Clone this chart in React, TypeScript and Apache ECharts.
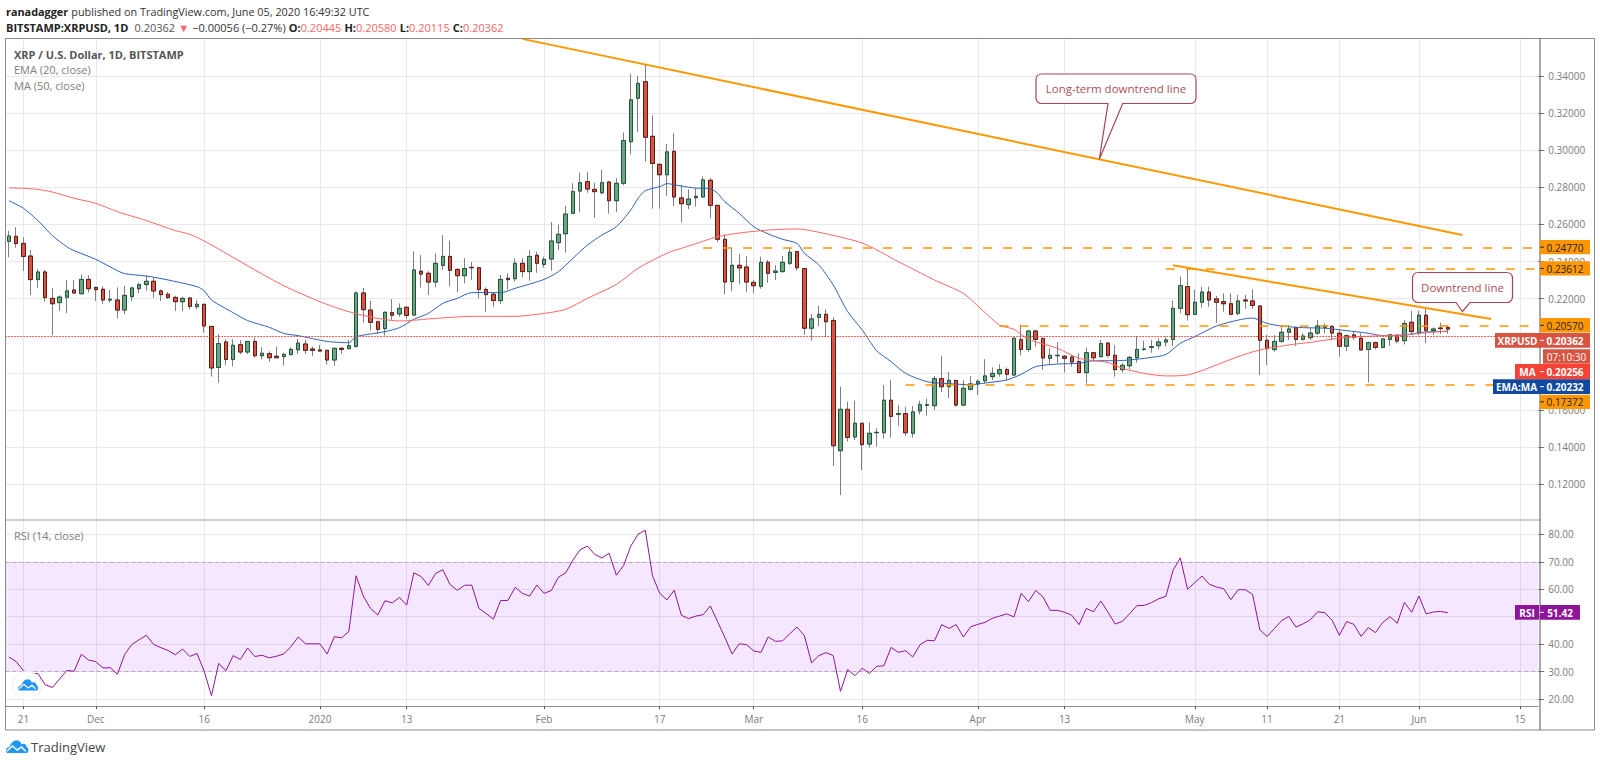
import React from 'react';
import * as echarts from 'echarts';

// one category per calendar day, Nov 19 2019 onwards; the last ones are the empty space right of the price
const dates: string[] = Array.from({ length: 212 }, (_, i) =>
  new Date(Date.UTC(2019, 10, 19 + i)).toISOString().slice(0, 10),
);

const tickDates = ['2019-11-21', '2019-12-01', '2019-12-16', '2020-01-01', '2020-01-13', '2020-02-01', '2020-02-17', '2020-03-01', '2020-03-16', '2020-04-01', '2020-04-13', '2020-05-01', '2020-05-11', '2020-05-21', '2020-06-01', '2020-06-15'];
const tickLabels = ['21', 'Dec', '16', '2020', '13', 'Feb', '17', 'Mar', '16', 'Apr', '13', 'May', '11', '21', 'Jun', '15'];

const priceTicks = [0.12, 0.14, 0.16, 0.18, 0.2, 0.22, 0.24, 0.26, 0.28, 0.3, 0.32, 0.34];
const rsiTicks = [20, 30, 40, 50, 60, 70, 80];
// 0.18, 0.20 and 50 sit fully behind the price tags
const priceLabels = [0.12, 0.14, 0.16, 0.22, 0.24, 0.26, 0.28, 0.3, 0.32, 0.34];
const rsiLabels = [20, 30, 40, 60, 70, 80];

const opens = [
  0.2509, 0.2536, 0.2498, 0.243, 0.2303, 0.2344, 0.2202, 0.2179, 0.2208, 0.2247,
  0.2227, 0.2304, 0.2261, 0.2251, 0.2193, 0.2193, 0.2139, 0.2211, 0.2254, 0.2276,
  0.2294, 0.2242, 0.2224, 0.2207, 0.2184, 0.2204, 0.2157, 0.217, 0.2051, 0.183,
  0.1967, 0.1873, 0.1952, 0.1913, 0.197, 0.1893, 0.1904, 0.189, 0.1888, 0.1899,
  0.1925, 0.1956, 0.1929, 0.1924, 0.1922, 0.187, 0.1933, 0.1931, 0.1943, 0.2231,
  0.2139, 0.2076, 0.2039, 0.2125, 0.2118, 0.2154, 0.2112, 0.2348, 0.2337, 0.229,
  0.238, 0.2428, 0.2358, 0.2324, 0.2369, 0.2367, 0.225, 0.2224, 0.219, 0.231,
  0.2308, 0.2391, 0.2346, 0.2434, 0.2385, 0.2414, 0.2502, 0.255, 0.266, 0.278,
  0.2831, 0.2789, 0.2771, 0.2829, 0.2728, 0.2822, 0.3046, 0.328, 0.3369, 0.3075,
  0.2924, 0.2868, 0.2994, 0.2743, 0.2707, 0.2744, 0.2748, 0.2838, 0.2703, 0.252,
  0.2292, 0.238, 0.2371, 0.2288, 0.2267, 0.2396, 0.2342, 0.2346, 0.2391, 0.2454,
  0.2362, 0.2041, 0.21, 0.2116, 0.2082, 0.1381, 0.1604, 0.1455, 0.1529, 0.1417,
  0.1478, 0.1478, 0.1653, 0.1577, 0.1581, 0.1475, 0.1595, 0.1626, 0.1624, 0.1769,
  0.1726, 0.176, 0.1627, 0.1712, 0.1741, 0.1758, 0.178, 0.1796, 0.1818, 0.1789,
  0.1979, 0.1927, 0.2026, 0.1985, 0.1879, 0.1893, 0.189, 0.1886, 0.1861, 0.1802,
  0.1909, 0.1888, 0.1961, 0.1895, 0.1818, 0.1839, 0.1882, 0.1927, 0.1938, 0.1947,
  0.1967, 0.1981, 0.2148, 0.2265, 0.2116, 0.2181, 0.2236, 0.2199, 0.2184, 0.2173,
  0.2121, 0.2193, 0.2188, 0.2161, 0.1976, 0.1926, 0.197, 0.2019, 0.2044, 0.1981,
  0.199, 0.2015, 0.2046, 0.2051, 0.2014, 0.1944, 0.2005, 0.1987, 0.1927, 0.1963,
  0.1938, 0.1981, 0.2003, 0.1974, 0.2073, 0.2014, 0.2111, 0.2028, 0.2042, 0.20445,
];
const closes = [
  0.2538, 0.2497, 0.2428, 0.2303, 0.2344, 0.2206, 0.2173, 0.2209, 0.2242, 0.2231,
  0.2304, 0.2254, 0.2249, 0.2193, 0.2197, 0.2139, 0.2218, 0.2258, 0.2276, 0.2294,
  0.2242, 0.2222, 0.2206, 0.2184, 0.2202, 0.2159, 0.217, 0.2053, 0.1827, 0.1958,
  0.1873, 0.1949, 0.1913, 0.197, 0.1893, 0.1906, 0.1882, 0.1882, 0.19, 0.1927,
  0.1961, 0.1922, 0.1922, 0.1918, 0.187, 0.1933, 0.1927, 0.1947, 0.2231, 0.2141,
  0.2073, 0.2035, 0.2127, 0.2111, 0.2148, 0.211, 0.2355, 0.2333, 0.229, 0.2391,
  0.2428, 0.2353, 0.2324, 0.2362, 0.2367, 0.225, 0.2222, 0.219, 0.2304, 0.2303,
  0.2391, 0.2346, 0.2428, 0.2391, 0.2412, 0.2511, 0.2547, 0.2656, 0.2777, 0.2825,
  0.2791, 0.2777, 0.2825, 0.2728, 0.2822, 0.3052, 0.3272, 0.336, 0.307, 0.2929,
  0.2868, 0.2991, 0.2748, 0.2712, 0.2737, 0.2752, 0.284, 0.2703, 0.252, 0.229,
  0.238, 0.2366, 0.229, 0.227, 0.2396, 0.2337, 0.2349, 0.2396, 0.245, 0.2367,
  0.2041, 0.2091, 0.2116, 0.2076, 0.1408, 0.1604, 0.1453, 0.1529, 0.1414, 0.1475,
  0.148, 0.1653, 0.1566, 0.1581, 0.1478, 0.159, 0.1629, 0.1629, 0.1769, 0.1726,
  0.176, 0.1627, 0.1717, 0.1741, 0.1755, 0.1784, 0.1798, 0.1818, 0.1793, 0.1987,
  0.1927, 0.2026, 0.1981, 0.1881, 0.1895, 0.1895, 0.1879, 0.1859, 0.1802, 0.1909,
  0.1882, 0.1958, 0.1895, 0.1818, 0.1841, 0.1884, 0.1927, 0.1929, 0.1942, 0.1967,
  0.1978, 0.2148, 0.227, 0.2114, 0.2181, 0.2236, 0.2193, 0.2181, 0.2173, 0.2116,
  0.2188, 0.2188, 0.2164, 0.1976, 0.1931, 0.197, 0.2019, 0.2037, 0.1981, 0.1999,
  0.2015, 0.2053, 0.2053, 0.2015, 0.1944, 0.2001, 0.1992, 0.1924, 0.1963, 0.1938,
  0.1983, 0.2006, 0.1972, 0.2067, 0.2023, 0.2111, 0.203, 0.2037, 0.2039, 0.20362,
];
const lows = [
  0.2423, 0.2475, 0.2349, 0.222, 0.2258, 0.2184, 0.2003, 0.2134, 0.2123, 0.2225,
  0.2224, 0.2234, 0.2188, 0.2172, 0.2179, 0.2094, 0.2118, 0.2188, 0.2229, 0.2243,
  0.2206, 0.2188, 0.2199, 0.2134, 0.2134, 0.2143, 0.2143, 0.2017, 0.178, 0.1748,
  0.1841, 0.1834, 0.19, 0.1902, 0.1882, 0.1873, 0.1859, 0.1881, 0.1839, 0.1895,
  0.1902, 0.1902, 0.1891, 0.1915, 0.1845, 0.1839, 0.1902, 0.1927, 0.1936, 0.2071,
  0.2028, 0.201, 0.2001, 0.2085, 0.2103, 0.2092, 0.2112, 0.226, 0.222, 0.226,
  0.2355, 0.2265, 0.2236, 0.2283, 0.2301, 0.2202, 0.213, 0.2157, 0.2172, 0.225,
  0.2292, 0.2315, 0.2297, 0.234, 0.2367, 0.2351, 0.2462, 0.2448, 0.266, 0.2667,
  0.2771, 0.2635, 0.2762, 0.2658, 0.2667, 0.2811, 0.2978, 0.3098, 0.2938, 0.2685,
  0.2685, 0.2755, 0.27, 0.261, 0.2682, 0.2696, 0.2746, 0.2633, 0.2506, 0.2225,
  0.224, 0.2279, 0.2236, 0.2229, 0.2254, 0.2286, 0.2301, 0.234, 0.2382, 0.2351,
  0.2005, 0.1974, 0.2053, 0.1996, 0.1299, 0.1142, 0.143, 0.1439, 0.1277, 0.1397,
  0.1403, 0.1446, 0.1451, 0.1516, 0.146, 0.1451, 0.1577, 0.157, 0.16, 0.1696,
  0.1665, 0.1618, 0.1622, 0.1705, 0.1681, 0.1742, 0.1762, 0.178, 0.1762, 0.1784,
  0.1895, 0.1913, 0.1942, 0.1816, 0.1845, 0.1852, 0.1802, 0.1834, 0.1802, 0.1744,
  0.1861, 0.1884, 0.1884, 0.178, 0.1802, 0.182, 0.1856, 0.192, 0.1909, 0.1927,
  0.1942, 0.1945, 0.2121, 0.2082, 0.2111, 0.2152, 0.2157, 0.2071, 0.213, 0.2111,
  0.2112, 0.2146, 0.2146, 0.1789, 0.1843, 0.1915, 0.1963, 0.1978, 0.1945, 0.1974,
  0.1978, 0.2005, 0.2014, 0.1978, 0.1888, 0.1918, 0.1978, 0.192, 0.1748, 0.1927,
  0.1933, 0.1945, 0.196, 0.1953, 0.2005, 0.2003, 0.196, 0.2005, 0.201, 0.20115,
];
const highs = [
  0.2565, 0.2585, 0.2531, 0.2462, 0.236, 0.2355, 0.2258, 0.2218, 0.2301, 0.2301,
  0.2331, 0.2326, 0.2265, 0.2267, 0.2247, 0.2261, 0.2269, 0.2265, 0.2286, 0.2326,
  0.2315, 0.2251, 0.2236, 0.2215, 0.2211, 0.2207, 0.2193, 0.217, 0.2051, 0.201,
  0.1981, 0.1981, 0.1978, 0.197, 0.1992, 0.1938, 0.1916, 0.1942, 0.1909, 0.1938,
  0.1983, 0.1978, 0.1942, 0.1951, 0.1924, 0.1936, 0.1938, 0.1978, 0.224, 0.2258,
  0.219, 0.2082, 0.213, 0.2197, 0.2175, 0.2157, 0.2455, 0.2436, 0.2348, 0.2445,
  0.2542, 0.2513, 0.2364, 0.2418, 0.2398, 0.2373, 0.2261, 0.2233, 0.2328, 0.2337,
  0.2418, 0.2418, 0.2462, 0.2453, 0.2427, 0.2613, 0.2599, 0.27, 0.2822, 0.2879,
  0.2883, 0.2825, 0.2894, 0.2832, 0.2849, 0.3095, 0.3411, 0.34, 0.3465, 0.3188,
  0.2929, 0.3034, 0.3091, 0.2813, 0.2789, 0.2795, 0.2858, 0.285, 0.2703, 0.2547,
  0.2477, 0.2441, 0.243, 0.2301, 0.2427, 0.2409, 0.2382, 0.243, 0.2477, 0.2457,
  0.2366, 0.2118, 0.2161, 0.2143, 0.21, 0.1726, 0.1645, 0.1651, 0.1529, 0.1534,
  0.1502, 0.1735, 0.1762, 0.1626, 0.1618, 0.1622, 0.1651, 0.1662, 0.1784, 0.1891,
  0.1805, 0.1762, 0.1762, 0.1784, 0.1766, 0.1874, 0.183, 0.1847, 0.183, 0.1992,
  0.206, 0.2032, 0.2032, 0.1992, 0.1933, 0.1967, 0.1897, 0.1897, 0.1906, 0.1938,
  0.1915, 0.1978, 0.1965, 0.1949, 0.1856, 0.1891, 0.1999, 0.1974, 0.1978, 0.1987,
  0.1996, 0.219, 0.2319, 0.236, 0.2247, 0.2265, 0.2265, 0.2215, 0.2229, 0.2229,
  0.222, 0.222, 0.2251, 0.2166, 0.2005, 0.2005, 0.2053, 0.2058, 0.2046, 0.2014,
  0.2046, 0.2085, 0.2067, 0.2058, 0.2035, 0.2008, 0.2023, 0.2014, 0.1969, 0.1969,
  0.1987, 0.201, 0.201, 0.2085, 0.2136, 0.2136, 0.2148, 0.2046, 0.2071, 0.2058,
];

const rsi = [
  35.3, 33.6, 30.3, 29.3, 29.3, 25.2, 24.2, 27.3, 30.4, 30.1,
  36.3, 34.2, 33.6, 31.3, 31.4, 29.0, 36.3, 39.9, 41.6, 43.2,
  39.9, 38.7, 37.7, 36.1, 38.2, 35.5, 36.6, 30.1, 21.2, 33.0,
  30.3, 35.8, 34.4, 38.6, 35.5, 35.9, 35.0, 35.6, 36.4, 39.1,
  42.6, 40.1, 40.1, 40.1, 36.4, 42.7, 42.3, 44.6, 64.9, 57.5,
  53.0, 50.6, 55.8, 55.0, 57.0, 54.2, 66.0, 64.6, 61.4, 65.7,
  67.1, 61.7, 59.6, 61.4, 61.5, 53.0, 51.1, 49.1, 55.9, 55.9,
  60.7, 58.5, 57.5, 61.5, 58.5, 59.5, 64.4, 66.0, 70.6, 74.4,
  75.7, 72.7, 71.4, 73.1, 65.1, 68.6, 75.7, 80.0, 81.5, 64.9,
  58.5, 56.1, 59.6, 50.5, 49.3, 50.2, 50.7, 53.9, 48.2, 42.5,
  36.4, 40.1, 39.8, 37.5, 37.0, 42.6, 41.0, 41.2, 43.8, 46.2,
  43.1, 33.2, 35.8, 36.9, 35.8, 22.8, 30.7, 28.5, 31.2, 29.3,
  31.9, 32.1, 38.8, 37.0, 37.6, 35.3, 39.8, 41.4, 41.2, 47.1,
  45.7, 47.1, 42.6, 46.3, 47.2, 47.9, 49.4, 50.2, 51.0, 49.9,
  58.5, 55.5, 59.5, 57.2, 52.3, 52.3, 51.6, 50.5, 47.1, 53.0,
  51.8, 55.7, 51.6, 47.3, 48.3, 51.1, 54.0, 54.1, 55.1, 56.5,
  57.4, 66.9, 71.4, 60.0, 62.4, 64.8, 61.8, 60.8, 60.2, 56.2,
  59.8, 59.8, 58.1, 45.2, 42.8, 45.6, 48.5, 50.1, 46.2, 47.4,
  48.9, 51.8, 51.4, 48.7, 43.2, 48.2, 47.2, 42.8, 46.0, 44.2,
  47.9, 50.0, 47.6, 55.2, 51.6, 57.5, 51.0, 51.7, 51.9, 51.42,
];

// [day index, value]
const ema20 = [
  [0, 0.2728], [2, 0.2687], [4, 0.2621], [6, 0.254], [8, 0.248], [9, 0.2459], [12, 0.2412], [15, 0.2351], [16, 0.2335],
  [19, 0.2322], [22, 0.2301], [26, 0.2265], [27, 0.2243], [28, 0.2193], [31, 0.2125], [33, 0.2082], [36, 0.2046],
  [38, 0.2013], [40, 0.2001], [44, 0.197], [47, 0.1963], [48, 0.1995], [50, 0.201], [52, 0.2023], [54, 0.2044],
  [56, 0.2089], [58, 0.2121], [60, 0.2175], [62, 0.2202], [64, 0.2233], [68, 0.2233], [70, 0.2256], [74, 0.2304],
  [76, 0.2346], [78, 0.2418], [80, 0.2489], [82, 0.2543], [84, 0.2588], [86, 0.2678], [87, 0.2741], [88, 0.2782],
  [90, 0.2804], [91, 0.282], [93, 0.2807], [95, 0.2796], [97, 0.2793], [98, 0.2768], [99, 0.2723], [101, 0.266],
  [103, 0.2588], [105, 0.2549], [107, 0.252], [109, 0.2498], [110, 0.2445], [112, 0.2382], [114, 0.2274], [116, 0.213],
  [118, 0.2032], [120, 0.192], [122, 0.1861], [124, 0.1798], [127, 0.1753], [130, 0.1742], [133, 0.1737], [135, 0.1746],
  [138, 0.1762], [140, 0.1793], [142, 0.1834], [145, 0.1848], [148, 0.1852], [150, 0.1866], [153, 0.1866], [155, 0.187],
  [158, 0.1884], [160, 0.1899], [162, 0.196], [164, 0.1996], [167, 0.2053], [170, 0.2085], [172, 0.2096], [174, 0.2067],
  [176, 0.2053], [179, 0.2044], [182, 0.2041], [185, 0.2028], [188, 0.2014], [190, 0.2001], [193, 0.2005], [196, 0.2021],
  [199, 0.20232],
];
const ma50 = [
  [0, 0.2797], [2, 0.2795], [4, 0.2789], [6, 0.2775], [9, 0.2741], [12, 0.2714], [15, 0.2669], [19, 0.2621], [23, 0.2567],
  [25, 0.2547], [27, 0.2511], [31, 0.2423], [34, 0.2355], [38, 0.227], [43, 0.2184], [47, 0.213], [51, 0.2094], [54, 0.208],
  [59, 0.2094], [64, 0.2105], [70, 0.2105], [74, 0.2121], [77, 0.2143], [80, 0.2202], [84, 0.2277], [87, 0.2364],
  [91, 0.2445], [94, 0.2484], [98, 0.2534], [101, 0.2554], [105, 0.257], [109, 0.2576], [112, 0.2558], [118, 0.25],
  [123, 0.24], [128, 0.2301], [132, 0.2229], [134, 0.2161], [137, 0.2058], [139, 0.2035], [141, 0.1981], [145, 0.1933],
  [148, 0.1879], [152, 0.1856], [154, 0.1825], [157, 0.1798], [160, 0.1784], [163, 0.1789], [167, 0.1843], [170, 0.1888],
  [173, 0.1924], [177, 0.1951], [180, 0.1965], [184, 0.1987], [187, 0.1996], [190, 0.2001], [193, 0.2005], [196, 0.2017],
  [199, 0.20256],
];

const levels = [0.2477, 0.23612, 0.2057, 0.17372];
const levelStarts = [96, 160, 137, 124];
const lastPrice = 0.20362;
const lastRsi = 51.42;

echarts.graphic.registerShape('calloutLong', echarts.graphic.extendPath(
  'M1042 74H1190Q1196 74 1196 80V97.5Q1196 103.5 1190 103.5H1122.7L1099.3 159.3L1108 103.5H1042Q1036 103.5 1036 97.5V80Q1036 74 1042 74Z', {}));
echarts.graphic.registerShape('calloutShort', echarts.graphic.extendPath(
  'M1418.5 272.5H1506.5Q1512.5 272.5 1512.5 278.5V296.5Q1512.5 302.5 1506.5 302.5H1470L1462.5 311.5L1456 302.5H1418.5Q1412.5 302.5 1412.5 296.5V278.5Q1412.5 272.5 1418.5 272.5Z', {}));
echarts.graphic.registerShape('tvCloud', echarts.graphic.extendPath(
  'M4 37C-2 31 1 21 11 20C14 10 22 1 31 1C38 1 43 6 45 12C51 8 60 12 60 20C67 23 67 37 59 37Z', {}));

const FONT = '"Open Sans", sans-serif';
const AXIS_GREY = '#7b7b7b';
const GRID_GREY = '#e9e9e9';
const ORANGE = '#ff9800';

const label = (text: string, x: number, y: number, extra: any = {}) => ({
  type: 'text', x, y, z: 120,
  style: { text, fontFamily: FONT, fontSize: 11.5, fill: AXIS_GREY, verticalAlign: 'middle', ...extra },
});

const tag = (x: number, y: number, w: number, h: number, color: string, text: string, fill = '#fff', weight = 700) => {
  const parts: any[] = [
    { type: 'rect', z: 110, shape: { x, y, width: w, height: h }, style: { fill: color } },
    {
      type: 'text', z: 111, x: x + w / 2, y: y + h / 2 + 0.5,
      style: { text, fontFamily: FONT, fontSize: 10, fontWeight: weight, fill, align: 'center', verticalAlign: 'middle' },
    },
  ];
  // tags on the axis carry their own little tick
  if (x === 1540) {
    parts.push({
      type: 'line', z: 111,
      shape: { x1: 1540, y1: y + h / 2, x2: 1544, y2: y + h / 2 },
      style: { stroke: fill, lineWidth: 1 },
    });
  }
  return parts;
};

const logo = (x: number, y: number, s: number) => ({
  type: 'group', x, y, scaleX: s, scaleY: s, z: 121,
  children: [
    { type: 'tvCloud', z: 121, style: { fill: '#2196f3' } },
    {
      type: 'polyline', z: 122,
      shape: { points: [[3, 32], [19, 17], [33, 29], [45, 20], [57, 32]] },
      style: { stroke: '#fff', lineWidth: 4, fill: 'none' },
    },
  ],
});

const App = () => {
  const chartRef = React.useRef<HTMLDivElement>(null);

  React.useEffect(() => {
    const myChart = echarts.init(chartRef.current, null, { renderer: 'svg' });

    const isTick = (_: number, value: string) => tickDates.includes(value);
    const wicks = dates.slice(0, opens.length).map((_, i) => [opens[i], closes[i], lows[i], highs[i]]);
    const bodies = wicks.map(([o, c]) => [o, c, Math.min(o, c), Math.max(o, c)]);

    const dashed = levels.map((level, i) => [
      { coord: [levelStarts[i], level], lineStyle: { color: ORANGE, width: 1.6, type: [9, 11] } },
      { coord: [dates.length - 1, level] },
    ]);
    const trendStyle = { color: ORANGE, width: 2, type: 'solid' };

    myChart.setOption({
      animation: false,
      backgroundColor: '#fff',
      grid: [
        { left: 5.4, top: 38, width: 1532.8, height: 482 },
        { left: 5.4, top: 520, width: 1532.8, height: 186 },
      ],
      xAxis: [
        {
          type: 'category', gridIndex: 0, data: dates, boundaryGap: true,
          axisLine: { show: false },
          axisTick: { show: false, alignWithLabel: true, interval: isTick },
          axisLabel: { show: false, interval: isTick },
          splitLine: { show: true, alignWithLabel: true, interval: isTick, lineStyle: { color: GRID_GREY, width: 1 } },
        },
        {
          type: 'category', gridIndex: 1, data: dates, boundaryGap: true,
          axisLine: { show: true, lineStyle: { color: '#8f8f8f' } },
          axisTick: { show: true, alignWithLabel: true, interval: isTick, length: 3, lineStyle: { color: '#555' } },
          axisLabel: {
            show: true, interval: isTick, margin: 8, color: AXIS_GREY, fontFamily: FONT, fontSize: 10,
            formatter: (value: string) => tickLabels[tickDates.indexOf(value)],
          },
          splitLine: { show: true, alignWithLabel: true, interval: isTick, lineStyle: { color: GRID_GREY, width: 1 } },
        },
      ],
      yAxis: [
        {
          type: 'value', gridIndex: 0, position: 'right', scale: true, min: 0.10078, max: 0.36047,
          axisLine: { show: false },
          axisTick: { show: true, length: 6, customValues: priceTicks, lineStyle: { color: '#777' } },
          axisLabel: {
            customValues: priceLabels, margin: 10, color: AXIS_GREY, fontFamily: FONT, fontSize: 10,
            formatter: (value: number) => value.toFixed(5),
          },
          splitLine: { show: true, lineStyle: { color: GRID_GREY, width: 1 } },
        },
        {
          type: 'value', gridIndex: 1, position: 'right', min: 17.45, max: 85.21,
          axisLine: { show: false },
          axisTick: { show: true, length: 6, customValues: rsiTicks, lineStyle: { color: '#777' } },
          axisLabel: {
            customValues: rsiLabels, margin: 10, color: AXIS_GREY, fontFamily: FONT, fontSize: 10,
            formatter: (value: number) => value.toFixed(2),
          },
          splitLine: { show: true, lineStyle: { color: GRID_GREY, width: 1 } },
        },
      ],
      series: [
        {
          name: 'XRPUSD wicks', type: 'candlestick', xAxisIndex: 0, yAxisIndex: 0, data: wicks, barWidth: 4, z: 3,
          itemStyle: { color: '#808082', color0: '#808082', borderColor: '#808082', borderColor0: '#808082', borderWidth: 1 },
        },
        {
          name: 'XRPUSD', type: 'candlestick', xAxisIndex: 0, yAxisIndex: 0, data: bodies, barWidth: 4, z: 4,
          itemStyle: { color: '#6ba583', color0: '#d75442', borderColor: '#225437', borderColor0: '#5b1a13', borderWidth: 1 },
          markLine: {
            silent: true, symbol: 'none', animation: false, label: { show: false }, z: 6,
            data: [
              { yAxis: lastPrice, lineStyle: { color: '#ff3b30', width: 1, type: [1.5, 1.5] } },
              ...dashed,
              [{ coord: [71, 0.36], lineStyle: trendStyle }, { coord: [201, 0.2543] }],
              [{ coord: [161, 0.238], lineStyle: trendStyle }, { coord: [205, 0.2091] }],
            ],
          },
        },
        {
          name: 'EMA (20, close)', type: 'line', xAxisIndex: 0, yAxisIndex: 0, data: ema20, showSymbol: false, smooth: 0.25, z: 5,
          lineStyle: { color: '#2f62b5', width: 1 },
        },
        {
          name: 'MA (50, close)', type: 'line', xAxisIndex: 0, yAxisIndex: 0, data: ma50, showSymbol: false, smooth: 0.25, z: 5,
          lineStyle: { color: '#f66', width: 1 },
        },
        {
          name: 'RSI (14, close)', type: 'line', xAxisIndex: 1, yAxisIndex: 1, data: rsi, showSymbol: false, z: 5,
          lineStyle: { color: '#8e1599', width: 1 },
          markArea: {
            silent: true, itemStyle: { color: 'rgba(153, 21, 255, 0.1)' },
            data: [[{ yAxis: 30 }, { yAxis: 70 }]],
          },
          markLine: {
            silent: true, symbol: 'none', animation: false, label: { show: false },
            lineStyle: { color: '#b8acb8', width: 1, type: [4, 3] },
            data: [{ yAxis: 70 }, { yAxis: 30 }],
          },
        },
      ],
      graphic: [
        // frame and pane separators
        { type: 'rect', z: 100, shape: { x: 5.5, y: 38.5, width: 1589, height: 691.5 }, style: { fill: 'none', stroke: '#8a8a8a', lineWidth: 1 } },
        { type: 'line', z: 100, shape: { x1: 6, y1: 520, x2: 1540, y2: 520 }, style: { stroke: '#a0a0a0', lineWidth: 1 } },
        { type: 'line', z: 100, shape: { x1: 1540, y1: 38, x2: 1540, y2: 730 }, style: { stroke: '#555', lineWidth: 1 } },

        // header
        {
          type: 'text', x: 6, y: 11, z: 120,
          style: {
            text: '{b|ranadagger} {n|published on TradingView.com, June 05, 2020 16:49:32 UTC}',
            verticalAlign: 'middle', fontFamily: FONT,
            rich: {
              b: { fontFamily: FONT, fontSize: 10.85, fontWeight: 700, fill: '#222' },
              n: { fontFamily: FONT, fontSize: 10.85, fill: '#333' },
            },
          },
        },
        {
          type: 'text', x: 6, y: 27, z: 120,
          style: {
            text: '{b|BITSTAMP:XRPUSD, 1D}  {g|0.20362} {r|▼} {n|−0.00056 (−0.27%)} {b|O:}{r|0.20445} {b|H:}{r|0.20580} {b|L:}{r|0.20115} {b|C:}{r|0.20362}',
            verticalAlign: 'middle', fontFamily: FONT,
            rich: {
              b: { fontFamily: FONT, fontSize: 11, fontWeight: 700, fill: '#222' },
              n: { fontFamily: FONT, fontSize: 11, fill: '#333' },
              g: { fontFamily: FONT, fontSize: 11, fill: '#555' },
              r: { fontFamily: FONT, fontSize: 11, fill: '#f66' },
            },
          },
        },

        // pane legends
        label('XRP / U.S. Dollar, 1D, BITSTAMP', 14, 54, { fontWeight: 700, fontSize: 11, fill: '#555' }),
        label('EMA (20, close)', 14, 69, { fontSize: 11, fill: '#808080' }),
        label('MA (50, close)', 14, 85, { fontSize: 11, fill: '#808080' }),
        label('RSI (14, close)', 14, 535, { fontSize: 11, fill: '#808080' }),

        // callouts
        { type: 'calloutLong', z: 115, style: { fill: '#fff', stroke: '#a8464f', lineWidth: 1.2 } },
        label('Long-term downtrend line', 1116, 88.5, { align: 'center', fill: '#b05058', fontSize: 11.5 }),
        { type: 'calloutShort', z: 115, style: { fill: '#fff', stroke: '#a8464f', lineWidth: 1.2 } },
        label('Downtrend line', 1462.5, 287, { align: 'center', fill: '#b05058', fontSize: 11.5 }),

        // price tags on the axis
        ...tag(1540, 240, 50, 14.3, ORANGE, levels[0].toFixed(5), '#222', 500),
        ...tag(1540, 261.3, 50, 14.3, ORANGE, levels[1].toFixed(5), '#222', 500),
        ...tag(1540, 318, 50, 14.6, ORANGE, levels[2].toFixed(5), '#222', 500),
        ...tag(1495, 333, 45, 14.7, '#d75442', 'XRPUSD'),
        ...tag(1540, 333, 50, 14.7, '#d75442', lastPrice.toFixed(5)),
        ...tag(1543, 349.3, 47, 14.4, '#d75442', '07:10:30', '#fff', 500),
        ...tag(1515, 364, 25, 15.3, '#f44336', 'MA'),
        ...tag(1540, 364, 50, 15.3, '#f44336', '0.20256'),
        ...tag(1493, 379.3, 47, 14.7, '#0f4aa0', 'EMA:MA'),
        ...tag(1540, 379.3, 50, 14.7, '#0f4aa0', '0.20232'),
        ...tag(1540, 394.7, 50, 14.3, ORANGE, levels[3].toFixed(5), '#222', 500),
        ...tag(1515, 605, 24, 14.7, '#8e1599', 'RSI'),
        ...tag(1540, 605, 40, 14.7, '#8e1599', lastRsi.toFixed(2)),

        // logos
        { type: 'circle', z: 120, shape: { cx: 26.7, cy: 685.7, r: 14.5 }, style: { fill: '#fff', stroke: '#eee', lineWidth: 1 } },
        logo(18, 679, 0.31),
        logo(5.7, 740, 0.35),
        label('TradingView', 31, 747, { fontSize: 13, fill: '#444' }),
      ],
    });

    return () => {
      myChart.dispose();
    };
  }, []);

  return <div ref={chartRef} style={{ position: 'absolute', left: 0, top: 0, width: 1600, height: 763 }} />;
};

export default App;
